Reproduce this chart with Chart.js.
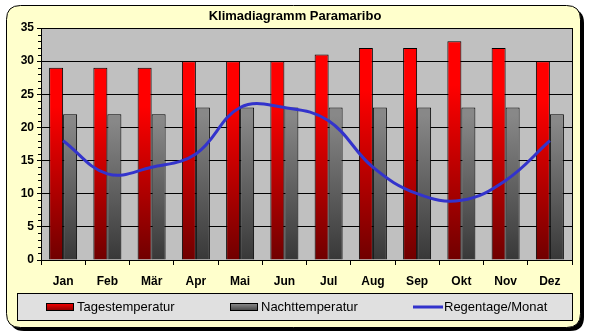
<!DOCTYPE html>
<html>
<head>
<meta charset="utf-8">
<title>Klimadiagramm Paramaribo</title>
<script src="https://cdn.jsdelivr.net/npm/chart.js@4/dist/chart.umd.min.js"></script>
<style>
  html, body { margin: 0; padding: 0; background: #fff; }
  #wrap { width: 589px; height: 336px; }
</style>
</head>
<body>
<div id="wrap"><canvas id="klima" width="589" height="336"></canvas></div>
<script>
// Klimadaten Paramaribo
const monate = ["Jan", "Feb", "Mär", "Apr", "Mai", "Jun", "Jul", "Aug", "Sep", "Okt", "Nov", "Dez"];
const tagesTemp = [29, 29, 29, 30, 30, 30, 31, 32, 32, 33, 32, 30];
const nachtTemp = [22, 22, 22, 23, 23, 23, 23, 23, 23, 23, 23, 22];
const regentage = [18, 13, 14, 16, 23, 23, 21, 14, 10, 9, 12, 18];
const yTicks = [0, 5, 10, 15, 20, 25, 30, 35];

const FONT = 'Arial, "Liberation Sans", sans-serif';

// vertical gradient for each bar, from its top down to the zero line
function barGradient(top, bottom, hold) {
  return ctx => {
    const chart = ctx.chart;
    const y = chart.scales.y;
    if (!chart.chartArea || !y || ctx.type !== "data") return top;
    const v = ctx.raw;
    const g = chart.ctx.createLinearGradient(0, y.getPixelForValue(v), 0, y.getPixelForValue(0));
    g.addColorStop(0, top);
    g.addColorStop(hold, top);
    g.addColorStop(1, bottom);
    return g;
  };
}

function roundRect(c, x, y, w, h, r) {
  c.beginPath();
  c.moveTo(x + r, y);
  c.lineTo(x + w - r, y);
  c.quadraticCurveTo(x + w, y, x + w, y + r);
  c.lineTo(x + w, y + h - r);
  c.quadraticCurveTo(x + w, y + h, x + w - r, y + h);
  c.lineTo(x + r, y + h);
  c.quadraticCurveTo(x, y + h, x, y + h - r);
  c.lineTo(x, y + r);
  c.quadraticCurveTo(x, y, x + r, y);
  c.closePath();
}

// frame, plot background, minor ticks, title and legend box
const frame = {
  id: "frame",
  beforeDraw(chart) {
    const c = chart.ctx;
    const a = chart.chartArea;
    c.save();
    roundRect(c, 10, 9, 574, 322, 14);
    c.fillStyle = "#000";
    c.fill();
    roundRect(c, 6.5, 5.5, 574, 322, 14);
    c.fillStyle = "#FFFFCC";
    c.fill();
    c.strokeStyle = "#000";
    c.lineWidth = 1;
    c.stroke();
    c.fillStyle = "#C0C0C0";
    c.fillRect(a.left, a.top, a.right - a.left, a.bottom - a.top);
    c.restore();
  },
  afterDraw(chart) {
    const c = chart.ctx;
    const a = chart.chartArea;
    const y = chart.scales.y;
    c.save();
    c.strokeStyle = "#000";
    c.lineWidth = 1;
    c.strokeRect(Math.round(a.left) + 0.5, Math.round(a.top) + 0.5, Math.round(a.right - a.left), Math.round(a.bottom - a.top));
    c.beginPath();
    for (let v = 1; v < 35; v++) {
      if (v % 5 === 0) continue;
      const py = Math.round(y.getPixelForValue(v)) + 0.5;
      c.moveTo(a.left - 3, py);
      c.lineTo(a.left, py);
    }
    c.stroke();

    // title
    c.fillStyle = "#000";
    c.font = "bold 13px " + FONT;
    c.textAlign = "center";
    c.textBaseline = "middle";
    c.fillText("Klimadiagramm Paramaribo", 295, 16);

    // legend
    c.fillStyle = "#E0E0E0";
    c.fillRect(17, 293, 555, 27);
    c.strokeRect(17.5, 293.5, 555, 27);
    c.font = "13px " + FONT;
    c.textAlign = "left";
    const ds = chart.data.datasets;
    const items = [
      { x: 46, ds: ds[1], top: "#FF0000", bottom: "#800000" },
      { x: 230, ds: ds[2], top: "#909090", bottom: "#404040" },
      { x: 413, ds: ds[0] }
    ];
    items.forEach(it => {
      if (it.ds.type === "line") {
        c.strokeStyle = it.ds.borderColor;
        c.lineWidth = 3;
        c.beginPath();
        c.moveTo(it.x, 307);
        c.lineTo(it.x + 30, 307);
        c.stroke();
        c.fillStyle = "#000";
        c.fillText(it.ds.label, it.x + 31, 307);
      } else {
        const g = c.createLinearGradient(0, 303, 0, 311);
        g.addColorStop(0, it.top);
        g.addColorStop(1, it.bottom);
        c.fillStyle = g;
        c.fillRect(it.x, 303, 27, 8);
        c.strokeStyle = "#000";
        c.lineWidth = 1;
        c.strokeRect(it.x + 0.5, 303.5, 27, 7);
        c.fillStyle = "#000";
        c.fillText(it.ds.label, it.x + 31, 307);
      }
    });
    c.restore();
  }
};

new Chart(document.getElementById("klima"), {
  data: {
    labels: monate,
    datasets: [
      {
        type: "line",
        label: "Regentage/Monat",
        data: regentage,
        borderColor: "#3333CC",
        borderWidth: 3,
        pointRadius: 0,
        tension: 0.4,
        fill: false,
        order: 0
      },
      {
        type: "bar",
        label: "Tagestemperatur",
        data: tagesTemp,
        backgroundColor: barGradient("#FF0000", "#700000", 0.2),
        borderColor: "#000",
        borderWidth: 1,
        categoryPercentage: 0.633,
        barPercentage: 1,
        order: 1
      },
      {
        type: "bar",
        label: "Nachttemperatur",
        data: nachtTemp,
        backgroundColor: barGradient("#888888", "#383838", 0.05),
        borderColor: "#000",
        borderWidth: 1,
        categoryPercentage: 0.633,
        barPercentage: 1,
        order: 1
      }
    ]
  },
  options: {
    responsive: false,
    animation: false,
    devicePixelRatio: 1,
    layout: { padding: { top: 28, right: 17, bottom: 0, left: 0 } },
    plugins: {
      legend: { display: false },
      title: { display: false },
      tooltip: { enabled: false }
    },
    scales: {
      x: {
        offset: true,
        afterFit(s) { s.height = 76; },
        grid: { drawOnChartArea: false, drawTicks: true, tickLength: 5, color: "#000" },
        border: { color: "#000" },
        ticks: { color: "#000", padding: 9, font: { family: FONT, size: 12, weight: "bold" } }
      },
      y: {
        min: 0,
        max: 35,
        afterFit(s) { s.width = 41; },
        afterBuildTicks(s) { s.ticks = yTicks.map(v => ({ value: v })); },
        grid: { color: "#000", lineWidth: 1, tickLength: 4 },
        border: { color: "#000" },
        ticks: { color: "#000", padding: 3, font: { family: FONT, size: 12, weight: "bold" } }
      }
    }
  },
  plugins: [frame]
});
</script>
</body>
</html>
